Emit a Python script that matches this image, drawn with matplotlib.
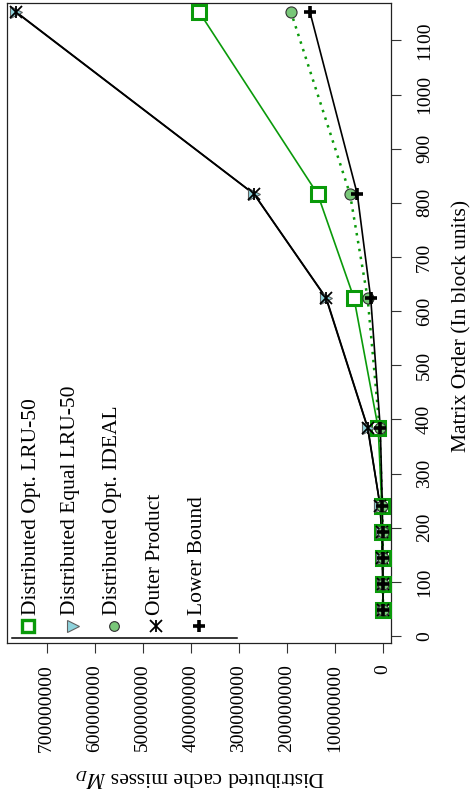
import numpy as np
import matplotlib
matplotlib.use('Agg')
import matplotlib.pyplot as plt

plt.rcParams['font.family'] = ['Liberation Serif', 'DejaVu Serif']
plt.rcParams['mathtext.fontset'] = 'stix'

order = [48, 96, 144, 192, 240, 384, 624, 816, 1152]
lru50 = [20000, 160000, 540000, 1300000, 2500000, 10000000, 60400000, 136000000, 382400000]
equal_lru50 = [48000, 390000, 1280000, 3050000, 5900000, 31500000, 118000000, 268000000, 763000000]
ideal = [14000, 110000, 380000, 900000, 1750000, 7200000, 32000000, 68700000, 191500000]
outer = [50000, 400000, 1300000, 3100000, 6000000, 32000000, 118700000, 268500000, 764000000]
lower = [11000, 88000, 297000, 704000, 1375000, 5630000, 25600000, 53500000, 152000000]

names = ['Distributed Opt. LRU-50', 'Distributed Equal LRU-50',
         'Distributed Opt. IDEAL', 'Outer Product', 'Lower Bound']
xticks = [0, 100000000, 200000000, 300000000, 400000000, 500000000, 600000000, 700000000]
yticks = list(range(0, 1200, 100))

green = '#0a9a0a'
fs_tick = 14
fs_lab = 15.5
fs_leg = 15.5

fig = plt.figure(figsize=(4.74, 7.92), dpi=100)
ax = fig.add_axes([7/474, 149/792, 384/474, 640/792])

# whole chart is the usual plot turned a quarter turn to the left
ax.plot(equal_lru50, order, color='black', lw=1.2, zorder=2)
ax.plot(outer, order, color='black', lw=1.2, zorder=3)
ax.plot(lru50, order, color=green, lw=1.2, zorder=3)
ax.plot(ideal, order, color=green, lw=1.8, ls=(0, (1, 2.2)), zorder=3)
ax.plot(lower, order, color='black', lw=1.2, zorder=3)

ax.plot(lru50, order, ls='none', marker='s', ms=9.5, mfc='white', mec=green, mew=2.2, zorder=4)
ax.plot(equal_lru50, order, ls='none', marker='>', ms=9, mfc='#8fd3dc', mec='#606060', mew=0.8, zorder=4)
ax.plot(outer, order, ls='none', marker='x', ms=9, mec='black', mew=1.3, zorder=5)
ax.plot(outer, order, ls='none', marker='|', ms=9, mec='black', mew=1.3, zorder=5)
ax.plot(ideal, order, ls='none', marker='o', ms=8, mfc='#79c779', mec='#303030', mew=0.8, zorder=5)
ax.plot(lower, order, ls='none', marker='+', ms=9, mec='black', mew=2.6, zorder=6)

ax.set_xlim(7.827e8, -1.665e7)
ax.set_ylim(-13, 1169)

ax.set_xticks(xticks)
ax.set_xticklabels([str(v) for v in xticks], rotation=90, fontsize=fs_tick)
ax.set_yticks(yticks)
ax.set_yticklabels([str(v) for v in yticks], rotation=90, fontsize=fs_tick, va='center')
ax.yaxis.tick_right()
ax.tick_params(axis='x', length=7, width=0.8, pad=8, color='#333333')
ax.tick_params(axis='y', length=7, width=0.8, pad=11, color='#333333')
for s in ax.spines.values():
    s.set_linewidth(0.9)
    s.set_color('#222222')

fig.text(200/474, 1 - 778/792, r'Distributed cache misses $M_D$', rotation=180,
         ha='center', va='center', fontsize=fs_lab)
fig.text(462/474, 1 - 326/792, 'Matrix Order (In block units)', rotation=90,
         ha='center', va='center', fontsize=fs_lab)

# legend, drawn by hand since it is turned too
lx = [28, 73, 114, 156, 199]
tx = [32, 71, 112, 155, 198]
ly = 626
tf = fig.transFigure
fx = lambda p: p / 474
fy = lambda p: 1 - p / 792
fig.add_artist(plt.Line2D([fx(12), fx(237)], [fy(638), fy(638)], color='black', lw=1.1, transform=tf))
styles = [dict(marker='s', ms=8, mfc='white', mec=green, mew=2.4),
          dict(marker='>', ms=8, mfc='#8fd3dc', mec='#606060', mew=0.8),
          dict(marker='o', ms=7, mfc='#79c779', mec='#303030', mew=0.8),
          dict(marker='x', ms=8, mec='black', mew=1.3),
          dict(marker='+', ms=8, mec='black', mew=2.6)]
for i, (x, t, name, st) in enumerate(zip(lx, tx, names, styles)):
    fig.add_artist(plt.Line2D([fx(x)], [fy(ly)], ls='none', transform=tf, **st))
    if i == 3:
        fig.add_artist(plt.Line2D([fx(x)], [fy(ly)], ls='none', marker='|', ms=8,
                                  mec='black', mew=1.3, transform=tf))
    fig.text(fx(t), fy(615), name, rotation=90, ha='center', va='bottom', fontsize=fs_leg)

fig.savefig('out.png', dpi=100)
